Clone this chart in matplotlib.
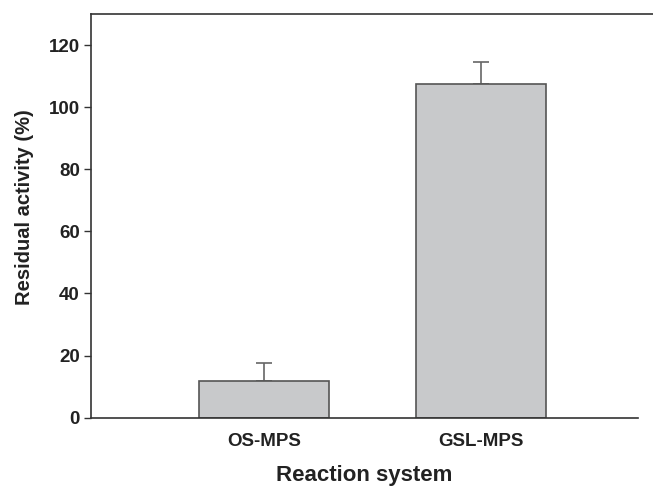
import matplotlib
matplotlib.use("Agg")
import matplotlib.pyplot as plt

categories = ["OS-MPS", "GSL-MPS"]
values = [11.7, 107.3]
errors = [5.8, 7.1]
yticks = [0, 20, 40, 60, 80, 100, 120]

plt.rcParams['font.family'] = ['Liberation Sans', 'DejaVu Sans']
plt.rcParams['font.weight'] = 'bold'

fig = plt.figure(figsize=(6.53, 4.87), dpi=100)
ax = fig.add_axes([0.1394, 0.1423, 0.977 - 0.1394, 0.9713 - 0.1423])

x = [1, 2]
ax.bar(x, values, width=0.6, color='#c8c9cb', edgecolor='#555555', linewidth=1.2, zorder=2)
ax.errorbar(x, values, yerr=[[0, 0], errors], fmt='none', ecolor='#666666',
            elinewidth=1.2, capsize=6, capthick=1.2, zorder=1)

ax.set_xlim(0.2, 2.724)
ax.set_ylim(0, 130)
ax.set_xticks(x)
ax.set_xticklabels(categories, fontsize=13.5, fontweight='bold', color='#222222')
ax.set_yticks(yticks)
ax.set_yticklabels([str(t) for t in yticks], fontsize=13.5, fontweight='bold', color='#222222')
ax.tick_params(axis='x', length=0, pad=11)
ax.tick_params(axis='y', length=5, width=1, color='#333333', pad=3)

ax.spines['right'].set_visible(False)
for s in ['left', 'bottom', 'top']:
    ax.spines[s].set_color('#333333')
    ax.spines[s].set_linewidth(1.2)
ax.spines['top'].set_visible(False)
ax.plot([0, 1.03], [1, 1], transform=ax.transAxes, color='#333333', lw=1.2, clip_on=False)

ax.set_xlabel("Reaction system", fontsize=16, fontweight='bold', color='#222222', labelpad=11)
ax.set_ylabel("Residual activity (%)", fontsize=14.5, fontweight='bold', color='#222222')
ax.yaxis.set_label_coords(-0.104, 0.522)

fig.savefig("out.png", dpi=100)
